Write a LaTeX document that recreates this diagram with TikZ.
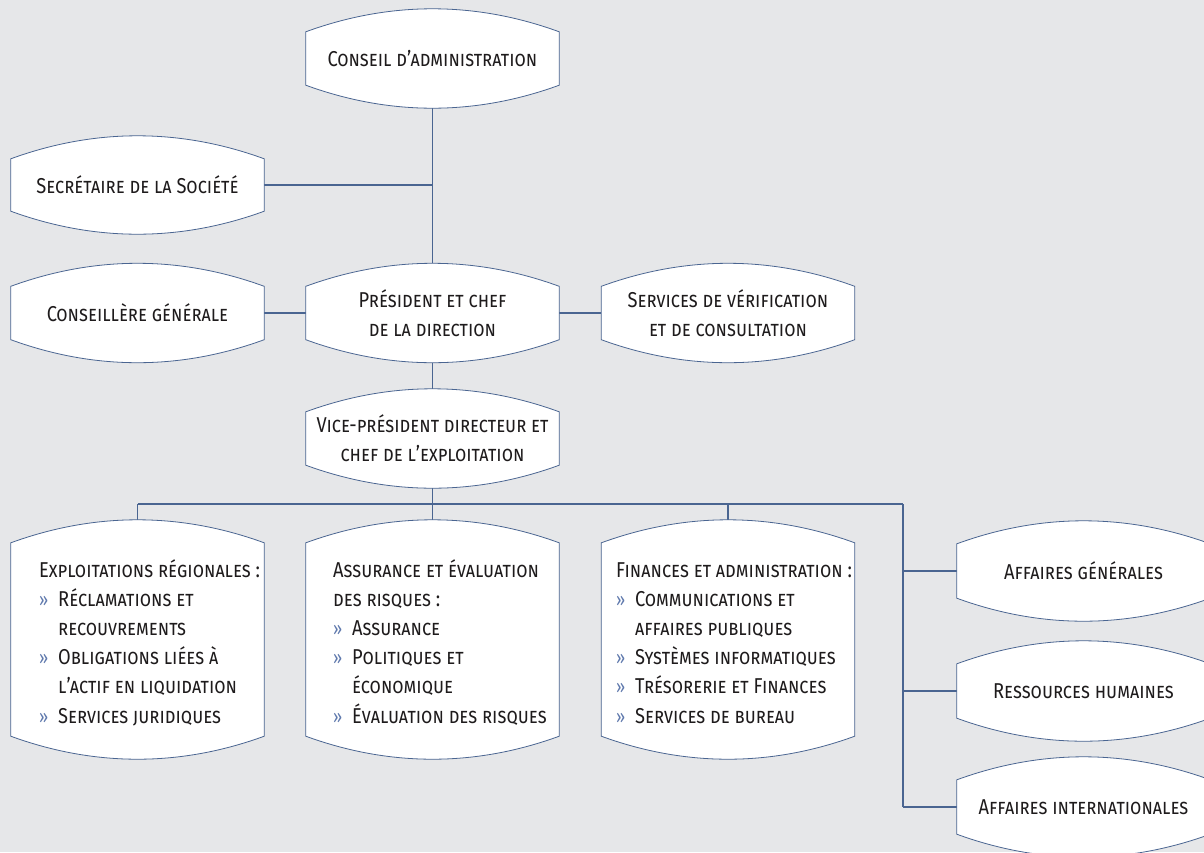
\documentclass[tikz,border=0pt]{standalone}
\usepackage{fontspec}
\setmainfont{Fira Sans}[FakeStretch=0.85]
\usetikzlibrary{calc,backgrounds}
\definecolor{bg}{HTML}{E6E7E9}
\definecolor{ln}{HTML}{4A6591}
\definecolor{txt}{HTML}{1E1B1C}
\definecolor{chev}{HTML}{5F79AD}
\newcommand\myfont{\fontsize{21.5}{29.2}\selectfont\scshape}
\newcommand\chv{\makebox[19pt][l]{\fontsize{19}{19}\selectfont\color{chev}»}}
\newcommand\ind{\hspace*{19pt}}
\tikzset{
  box/.style={minimum width=253pt, inner sep=0pt, text=txt, font=\myfont, align=center},
  listtext/.style={inner sep=0pt, text=txt, font=\myfont, align=left, anchor=base west},
  conn/.style={draw=ln, line width=1.3pt},
  outline/.style={draw=ln, line width=0.8pt, fill=white},
}
\newcommand\barrel[1]{%
  \path[outline] let \p1=(#1.north west), \p2=(#1.south east) in
    (\x1,\y1-23pt) .. controls (\x1+84pt,\y1+7.67pt) and (\x2-84pt,\y1+7.67pt) .. (\x2,\y1-23pt)
    -- (\x2,\y2+23pt) .. controls (\x2-84pt,\y2-7.67pt) and (\x1+84pt,\y2-7.67pt) .. (\x1,\y2+23pt)
    -- cycle;}
\begin{document}
\begin{tikzpicture}[x=1pt,y=-1pt]
\useasboundingbox (0,0) rectangle (1204,852);
% nodes
\node[box, minimum height=99pt] (conseil) at (432.5,58.5) {Conseil d’administration};
\node[box, minimum height=98pt] (secr) at (137.5,185) {Secrétaire de la Société};
\node[box, minimum height=99pt] (conseillere) at (137.5,313) {Conseillère générale};
\node[box, minimum height=99pt] (pres) at (432.5,313) {Président et chef\\de la direction};
\node[box, minimum height=99pt] (serv) at (728,313) {Services de vérification\\et de consultation};
\node[box, minimum height=99pt] (vp) at (432.5,438.5) {Vice-président directeur et\\chef de l’exploitation};
\node[box, minimum height=239pt] (expl) at (137.5,639.5) {};
\node[box, minimum height=239pt] (assur) at (432.5,639.5) {};
\node[box, minimum height=239pt] (fin) at (728,639.5) {};
\node[box, minimum height=100pt] (ag) at (1083.5,571) {Affaires générales};
\node[box, minimum height=100pt] (rh) at (1083.5,691) {Ressources humaines};
\node[box, minimum height=100pt] (ai) at (1083.5,807) {Affaires internationales};
% list texts (base = baseline of last line)
\node[listtext] (explt) at (39,723) {Exploitations régionales :\\
  \chv Réclamations et\\ \ind recouvrements\\
  \chv Obligations liées à\\ \ind l’actif en liquidation\\
  \chv Services juridiques};
\node[listtext] (assurt) at (333,723) {Assurance et évaluation\\
  des risques :\\
  \chv Assurance\\
  \chv Politiques et\\ \ind économique\\
  \chv Évaluation des risques};
\node[listtext] (fint) at (616,723) {Finances et administration :\\
  \chv Communications et\\ \ind affaires publiques\\
  \chv Systèmes informatiques\\
  \chv Trésorerie et Finances\\
  \chv Services de bureau};
% background and shapes
\begin{scope}[on background layer]
  \fill[bg] (0,0) rectangle (1204,852);
  \coordinate (bus) at (432.5,504);
  \coordinate (busL) at (137.5,504);
  \coordinate (busR) at (903,504);
  \draw[conn] (conseil.south) -- (pres.north);
  \draw[conn] (secr.east) -- (secr.east -| conseil.south);
  \draw[conn] (conseillere.east) -- (pres.west);
  \draw[conn] (pres.east) -- (serv.west);
  \draw[conn] (pres.south) -- (vp.north);
  \draw[conn] (vp.south) -- (bus);
  \draw[conn] (busL) -- (busR);
  \draw[conn] (busL) -- (expl.north);
  \draw[conn] (assur.north |- bus) -- (assur.north);
  \draw[conn] (fin.north |- bus) -- (fin.north);
  \draw[conn] (busR) -- (busR |- ai.west);
  \draw[conn] (busR |- ag.west) -- (ag.west);
  \draw[conn] (busR |- rh.west) -- (rh.west);
  \draw[conn] (busR |- ai.west) -- (ai.west);
  \foreach \bx in {conseil,secr,conseillere,pres,serv,vp,expl,assur,fin,ag,rh,ai}{\barrel{\bx}}
\end{scope}
\end{tikzpicture}
\end{document}
